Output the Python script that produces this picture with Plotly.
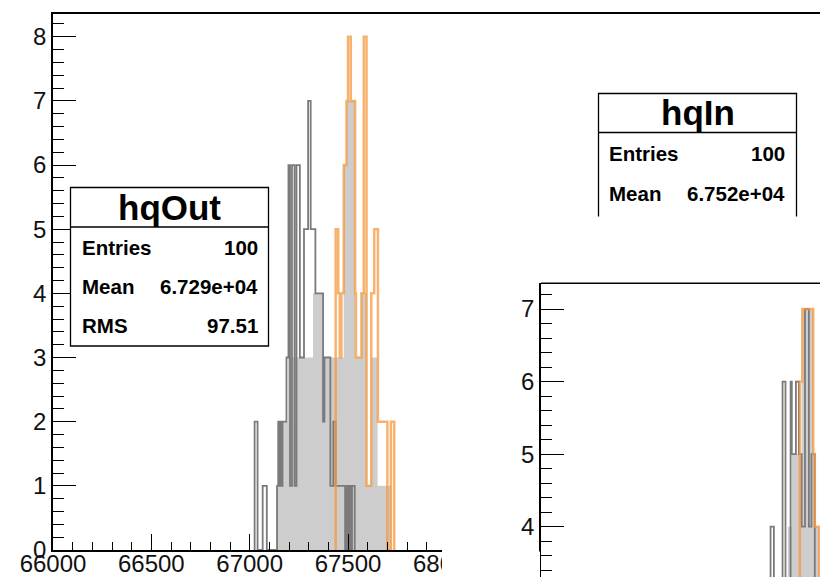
import plotly.graph_objects as go

W, H = 828, 577
OFF = 8  # the page body margin shifts the figure by 8 px

# ---------------- data ----------------
# main pad, hqOut (grey outline)
out_edges = [67025, 67040, 67066, 67087, 67139, 67145, 67150, 67156, 67162, 67168, 67187,
             67197, 67205, 67215, 67228, 67238, 67255, 67276, 67297, 67310, 67334, 67373,
             67380, 67410, 67425, 67437, 67485, 67492, 67500, 67506, 67515, 67520, 67534]
out_counts = [2, 0, 1, 0, 1, 2, 1, 2, 1, 2, 3,
              6, 1, 6, 1, 6, 3, 5, 7, 5, 4,
              2, 3, 1, 2, 1, 0, 1, 0, 1, 0, 1]

# main pad, hqIn (orange outline)
in_edges = [67437, 67450, 67458, 67466, 67478, 67492, 67500, 67514, 67536, 67540, 67568,
            67580, 67594, 67618, 67633, 67652, 67700, 67718, 67735]
in_counts = [5, 4, 3, 4, 6, 7, 8, 7, 4, 3, 4,
             8, 1, 4, 5, 2, 0, 2]

# main pad, light grey filled envelope
fill_edges = [67139, 67175, 67195, 67322, 67373, 67478, 67492, 67536, 67568, 67595, 67618,
              67650, 67720]
fill_counts = [1, 2, 3, 4, 3, 6, 7, 3, 4, 1, 3, 1]

# lower-right pad
p2_out_edges = [67150, 67167, 67184, 67228, 67243, 67269, 67275, 67296, 67311, 67325, 67342,
                67362, 67375, 67392, 67420]
p2_out_counts = [2, 4, 2, 6, 3, 6, 5, 6, 5, 4, 7, 4, 5, 3]
p2_in_edges = [67300, 67316, 67328, 67384, 67392, 67414, 67440]
p2_in_counts = [3, 6, 7, 5, 4, 2]
p2_fill_edges = [67255, 67275, 67325, 67330, 67384, 67392, 67414, 67430]
p2_fill_counts = [4, 5, 6, 7, 5, 4, 3]

main_x_ticks = [66000, 66500, 67000, 67500, 68000]
main_y_ticks = [0, 1, 2, 3, 4, 5, 6, 7, 8]
p2_y_ticks = [4, 5, 6, 7]

stats_out = [("Entries", "100"), ("Mean", "6.729e+04"), ("RMS", "97.51")]
stats_in = [("Entries", "100"), ("Mean", "6.752e+04")]

# ---------------- helpers ----------------
def step(edges, counts):
    xs = [edges[0]] + edges[:-1] + [edges[-1]]
    ys = [0] + counts + [0]
    return xs, ys

def X(px):
    return (px - OFF) / W

def Y(py):
    return 1 - (py - OFF) / H

RIGHT = W + OFF      # page x of the figure's right edge
BOTTOM = H + OFF     # page y of the figure's bottom edge

FILL = "#cdcdcd"
GREY = "#7a7a7a"
ORANGE = "rgba(246,152,62,0.75)"
FONT = "Liberation Sans, Arial, Helvetica, sans-serif"

fig = go.Figure()

def add_hist(edges, counts, xa, ya, color=None, fill=False, width=1.4):
    xs, ys = step(edges, counts)
    if fill:
        fig.add_trace(go.Scatter(x=xs, y=ys, mode="lines", line=dict(width=0, shape="hv"),
                                 fill="tozeroy", fillcolor=FILL, xaxis=xa, yaxis=ya,
                                 showlegend=False, hoverinfo="skip"))
    else:
        fig.add_trace(go.Scatter(x=xs, y=ys, mode="lines", line=dict(color=color, width=width, shape="hv"),
                                 xaxis=xa, yaxis=ya, showlegend=False, hoverinfo="skip"))

# main pad
add_hist(fill_edges, fill_counts, "x", "y", fill=True)
add_hist(out_edges, out_counts, "x", "y", color=GREY, width=1.8)
add_hist(in_edges, in_counts, "x", "y", color=ORANGE, width=2.5)

# cover pad (white background of the lower-right pad)
fig.add_trace(go.Scatter(x=[None], y=[None], xaxis="x2", yaxis="y2", showlegend=False, hoverinfo="skip"))

# lower-right pad
add_hist(p2_fill_edges, p2_fill_counts, "x3", "y3", fill=True)
add_hist(p2_out_edges, p2_out_counts, "x3", "y3", color=GREY, width=1.8)
add_hist(p2_in_edges, p2_in_counts, "x3", "y3", color=ORANGE, width=2.5)

tickfont = dict(family=FONT, size=24, color="#111")
hidden = dict(showline=False, showticklabels=False, ticks="", showgrid=False, zeroline=False, automargin=False)

fig.update_layout(
    width=W, height=H,
    margin=dict(l=0, r=0, t=0, b=0, autoexpand=False),
    paper_bgcolor="white", plot_bgcolor="white",
    xaxis=dict(domain=[X(53), 1], range=[66000, 66000 + (RIGHT - 53) / 0.1967],
               showline=True, mirror=True, linecolor="black", linewidth=1.5,
               tickvals=main_x_ticks, ticktext=[str(v) for v in main_x_ticks],
               ticks="inside", ticklen=16, tickwidth=1.2, tickcolor="black", ticklabelstandoff=-9,
               minor=dict(ticks="inside", ticklen=8, dtick=100, tick0=66000, tickcolor="black", tickwidth=1.2),
               showgrid=False, zeroline=False, tickfont=tickfont, anchor="y", automargin=False),
    yaxis=dict(domain=[Y(550), Y(13.5)], range=[0, (550 - 13.5) / 64.16],
               showline=True, mirror=False, linecolor="black", linewidth=1.5,
               tickvals=main_y_ticks, ticks="inside", ticklen=23, tickwidth=1.2, tickcolor="black",
               minor=dict(ticks="inside", ticklen=11, dtick=0.2, tick0=0, tickcolor="black", tickwidth=1.2),
               showgrid=False, zeroline=False, tickfont=tickfont, anchor="x", automargin=False),
    xaxis2=dict(domain=[X(442), 1], range=[0, 1], anchor="y2", **hidden),
    yaxis2=dict(domain=[0, Y(216.5)], range=[0, 1], anchor="x2", **hidden),
    xaxis3=dict(domain=[X(541), 1], range=[66000, 66000 + (RIGHT - 541) / 0.1967], anchor="y3", **hidden),
    yaxis3=dict(domain=[0, Y(283.3)], range=[7 - (BOTTOM - 309) / 72.56, 7 + (309 - 283.3) / 72.56],
                showline=True, linecolor="black", linewidth=1.5,
                tickvals=p2_y_ticks, ticks="inside", ticklen=23, tickwidth=1.2, tickcolor="black",
                minor=dict(ticks="inside", ticklen=11, dtick=0.2, tick0=0, tickcolor="black", tickwidth=1.2),
                showgrid=False, zeroline=False, tickfont=tickfont, anchor="x3", automargin=False),
)

shapes = []
annotations = []

# clip the last main x label where the lower-right pad begins
shapes.append(dict(type="rect", xref="paper", yref="paper", x0=X(442), x1=X(540), y0=0, y1=Y(551.5),
                   fillcolor="white", line=dict(width=0), layer="above"))

# top frame line of the lower-right pad
shapes.append(dict(type="line", xref="paper", yref="paper", x0=X(541), x1=1.01, y0=Y(283.3), y1=Y(283.3),
                   line=dict(color="black", width=1.5), layer="above"))

# stats box hqOut
bx0, bx1, by0, by1, bsep = 70.5, 268.5, 187.5, 346, 227
shapes.append(dict(type="rect", xref="paper", yref="paper", x0=X(bx0), x1=X(bx1), y0=Y(by1), y1=Y(by0),
                   fillcolor="white", line=dict(color="black", width=1.3), layer="above"))
shapes.append(dict(type="line", xref="paper", yref="paper", x0=X(bx0), x1=X(bx1), y0=Y(bsep), y1=Y(bsep),
                   line=dict(color="black", width=1.3), layer="above"))
annotations.append(dict(text="<b>hqOut</b>", x=X((bx0 + bx1) / 2), y=Y(207), xref="paper", yref="paper",
                        showarrow=False, xanchor="center", yanchor="middle",
                        font=dict(family=FONT, size=35, color="black")))
for i, (k, v) in enumerate(stats_out):
    yy = 247 + i * 39.3
    annotations.append(dict(text="<b>%s</b>" % k, x=X(80), y=Y(yy), xref="paper", yref="paper",
                            showarrow=False, xanchor="left", yanchor="middle",
                            font=dict(family=FONT, size=20.5, color="black")))
    annotations.append(dict(text="<b>%s</b>" % v, x=X(260), y=Y(yy), xref="paper", yref="paper",
                            showarrow=False, xanchor="right", yanchor="middle",
                            font=dict(family=FONT, size=20.5, color="black")))

# stats box hqIn (lower part hidden by the lower-right pad)
cx0, cx1, cy0, cy1, csep = 598.5, 796.5, 93.5, 216.5, 132.5
shapes.append(dict(type="rect", xref="paper", yref="paper", x0=X(cx0), x1=X(cx1), y0=Y(cy1), y1=Y(cy0),
                   fillcolor="white", line=dict(color="white", width=0), layer="above"))
shapes.append(dict(type="path", xref="paper", yref="paper",
                   path="M %f %f L %f %f L %f %f L %f %f" % (X(cx0), Y(cy1), X(cx0), Y(cy0), X(cx1), Y(cy0), X(cx1), Y(cy1)),
                   line=dict(color="black", width=1.3), layer="above"))
shapes.append(dict(type="line", xref="paper", yref="paper", x0=X(cx0), x1=X(cx1), y0=Y(csep), y1=Y(csep),
                   line=dict(color="black", width=1.3), layer="above"))
annotations.append(dict(text="<b>hqIn</b>", x=X((cx0 + cx1) / 2), y=Y(112), xref="paper", yref="paper",
                        showarrow=False, xanchor="center", yanchor="middle",
                        font=dict(family=FONT, size=35, color="black")))
for i, (k, v) in enumerate(stats_in):
    yy = 154 + i * 40
    annotations.append(dict(text="<b>%s</b>" % k, x=X(607), y=Y(yy), xref="paper", yref="paper",
                            showarrow=False, xanchor="left", yanchor="middle",
                            font=dict(family=FONT, size=20.5, color="black")))
    annotations.append(dict(text="<b>%s</b>" % v, x=X(787), y=Y(yy), xref="paper", yref="paper",
                            showarrow=False, xanchor="right", yanchor="middle",
                            font=dict(family=FONT, size=20.5, color="black")))

fig.update_layout(shapes=shapes, annotations=annotations)
fig.write_html("out.html")
